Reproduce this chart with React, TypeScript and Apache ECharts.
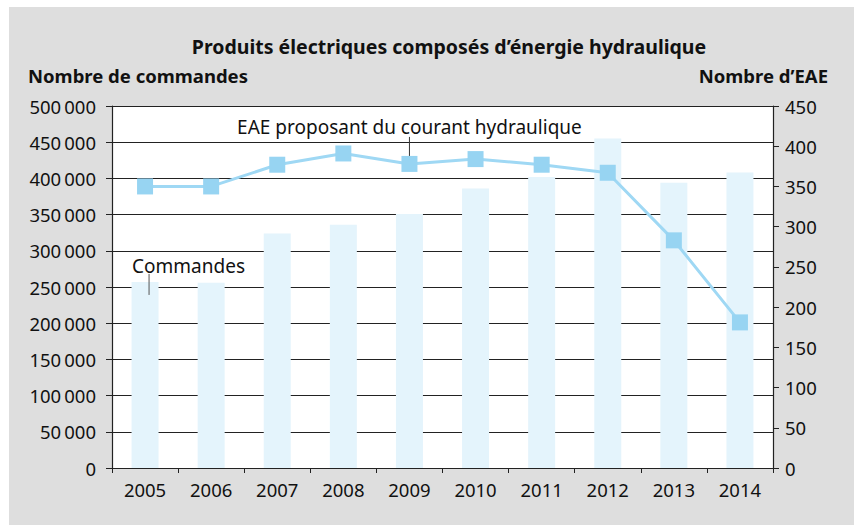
import React, { useEffect, useRef } from "react";
import * as echarts from "echarts";

const years = ["2005", "2006", "2007", "2008", "2009", "2010", "2011", "2012", "2013", "2014"];
const commandes = [257000, 256000, 324000, 336000, 351000, 386000, 402000, 455000, 394000, 408000];
const eae = [350, 350, 377, 391, 378, 384, 377, 367, 283, 181];

const titleText = "Produits électriques composés d’énergie hydraulique";
const leftName = "Nombre de commandes";
const rightName = "Nombre d’EAE";
const lineLabel = "EAE proposant du courant hydraulique";
const barLabel = "Commandes";

const FONT = "'Noto Sans', sans-serif";

const fmt = (v: number) => String(v).replace(/\B(?=(\d{3})+(?!\d))/g, "\u2009");

export default function App() {
  const ref = useRef<HTMLDivElement>(null);
  useEffect(() => {
    if (!ref.current) return;
    const chart = echarts.init(ref.current, null, { renderer: "svg" });
    const axisText = { color: "#111", fontSize: 18.5, fontFamily: FONT };
    const baseGraphic = [
      {
        type: "rect",
        shape: { x: 9, y: 7, width: 845, height: 518 },
        style: { fill: "#dedede" },
        z: -10,
        silent: true,
      },
      {
        type: "text",
        x: 28,
        y: 75,
        style: { text: leftName, fontSize: 18.5, fontWeight: "bold", fill: "#111", fontFamily: FONT, verticalAlign: "middle" },
      },
      {
        type: "text",
        x: 828,
        y: 75,
        style: { text: rightName, fontSize: 18.5, fontWeight: "bold", fill: "#111", fontFamily: FONT, align: "right", verticalAlign: "middle" },
      },
    ];
    chart.setOption({
      animation: false,
      backgroundColor: "#ffffff",
      textStyle: { fontFamily: FONT },
      title: {
        text: titleText,
        left: 444,
        textAlign: "center",
        top: 31,
        textStyle: { fontSize: 19.5, fontWeight: "bold", color: "#111", fontFamily: FONT },
      },
      grid: {
        left: 112,
        right: 81,
        top: 106,
        bottom: 57,
        show: true,
        backgroundColor: "#ffffff",
        borderWidth: 0,
      },
      xAxis: {
        type: "category",
        data: years,
        axisLine: { lineStyle: { color: "#222", width: 1.2 } },
        axisTick: { show: true, length: 5, lineStyle: { color: "#222" } },
        axisLabel: { ...axisText, margin: 12 },
      },
      yAxis: [
        {
          type: "value",
          min: 0,
          max: 500000,
          interval: 50000,
          position: "left",
          axisLine: { show: true, lineStyle: { color: "#222", width: 1.2 } },
          axisTick: { show: true, length: 6, lineStyle: { color: "#222" } },
          axisLabel: { ...axisText, margin: 16, formatter: (v: number) => fmt(v) },
          splitLine: { show: true, lineStyle: { color: "#222", width: 1.2 } },
        },
        {
          type: "value",
          min: 0,
          max: 450,
          interval: 50,
          position: "right",
          axisLine: { show: true, lineStyle: { color: "#222", width: 1.2 } },
          axisTick: { show: true, length: 6, lineStyle: { color: "#222" } },
          axisLabel: { ...axisText, margin: 12 },
          splitLine: { show: false },
        },
      ],
      series: [
        {
          type: "bar",
          name: barLabel,
          data: commandes,
          yAxisIndex: 0,
          barWidth: 27,
          itemStyle: { color: "#e4f4fc" },
          z: 2,
        },
        {
          type: "line",
          name: lineLabel,
          data: eae,
          yAxisIndex: 1,
          symbol: "rect",
          symbolSize: 16,
          lineStyle: { color: "#9fd8f4", width: 3 },
          itemStyle: { color: "#97d4f2" },
          z: 3,
        },
      ],
      graphic: baseGraphic,
    });

    const pLine = chart.convertToPixel({ seriesIndex: 1 }, [4, eae[4]]) as number[];
    const pBar = chart.convertToPixel({ seriesIndex: 0 }, [0, commandes[0]]) as number[];
    chart.setOption({
      graphic: [
        ...baseGraphic,
        {
          type: "text",
          x: pLine[0],
          y: pLine[1] - 37,
          z: 10,
          style: { text: lineLabel, fontSize: 19, fill: "#111", fontFamily: FONT, align: "center", verticalAlign: "middle" },
        },
        {
          type: "line",
          z: 10,
          shape: { x1: pLine[0], y1: pLine[1] - 27, x2: pLine[0], y2: pLine[1] - 8 },
          style: { stroke: "#333", lineWidth: 1 },
        },
        {
          type: "text",
          x: pBar[0] - 13,
          y: pBar[1] - 16,
          z: 10,
          style: { text: barLabel, fontSize: 19, fill: "#111", fontFamily: FONT, align: "left", verticalAlign: "middle" },
        },
        {
          type: "line",
          z: 10,
          shape: { x1: pBar[0] + 4, y1: pBar[1] - 8, x2: pBar[0] + 4, y2: pBar[1] + 13 },
          style: { stroke: "#555", lineWidth: 1 },
        },
      ],
    });
    return () => chart.dispose();
  }, []);
  return <div ref={ref} style={{ position: "fixed", left: 0, top: 0, width: 854, height: 525 }} />;
}
